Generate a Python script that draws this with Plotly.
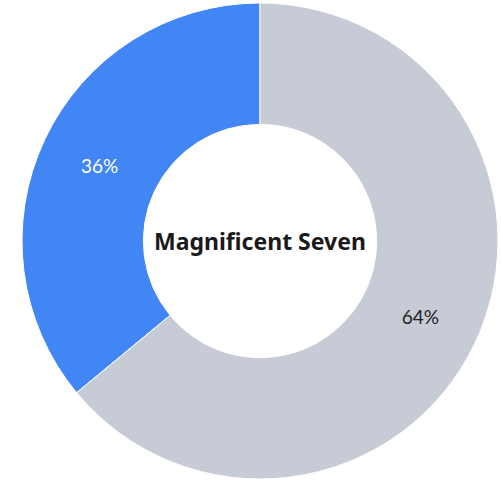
import plotly.graph_objects as go

labels = ["Magnificent Seven", "Rest of index"]
values = [36, 64]
colors = ["#4285F4", "#C6CBD5"]
center_label = "Magnificent Seven"

fig = go.Figure(go.Pie(
    labels=labels,
    values=values,
    hole=0.49,
    sort=False,
    direction="clockwise",
    rotation=-129.6,
    marker=dict(colors=colors, line=dict(color="#FFFFFF", width=1)),
    textinfo="percent",
    texttemplate="%{percent:.0%}",
    textposition="inside",
    insidetextorientation="horizontal",
    insidetextfont=dict(color=["#FFFFFF", "#222222"], size=19, family="Lato"),
    domain=dict(x=[0.0439, 0.994], y=[0.006, 0.994]),
    showlegend=False,
    hoverinfo="label+percent",
))

fig.add_annotation(
    x=0.5189, y=0.5, xref="paper", yref="paper",
    text="<b>" + center_label + "</b>", showarrow=False,
    font=dict(size=23, color="#1A1A1A", family="Noto Sans"),
)

fig.update_layout(
    width=501, height=482,
    margin=dict(l=0, r=0, t=0, b=0),
    paper_bgcolor="#FFFFFF",
    plot_bgcolor="#FFFFFF",
)

fig.write_html("out.html", config={"displayModeBar": False},
               post_script="document.body.style.margin='0';")
